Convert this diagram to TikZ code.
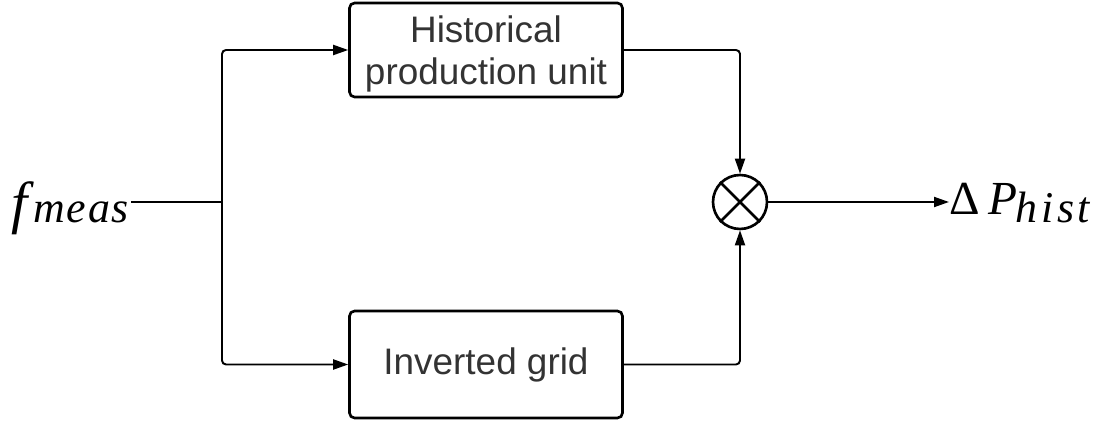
\documentclass[tikz,border=0pt]{standalone}
\usepackage{fontspec}
\setmainfont{Liberation Serif}
\newfontfamily\boxfont{Liberation Sans}
\usetikzlibrary{
    arrows.meta, % For arrow tips
    positioning  % For relative placement
}
\definecolor{boxtext}{RGB}{51,51,51}

\begin{document}
\begin{tikzpicture}[
    x=0.02cm, y=-0.02cm, % one unit is one pixel of the reference
    >={Triangle[length=0.3cm, width=0.2cm]},
    % Style for the two blocks
    block/.style={draw, line width=1.5pt, rounded corners=0.1cm,
        minimum width=5.46cm, inner sep=0pt, align=center,
        text=boxtext, font=\boxfont\fontsize{21}{24}\selectfont},
    % Style for the connecting lines
    wire/.style={line width=1.1pt, rounded corners=0.08cm},
    % Style for the multiplier
    mult/.style={draw, circle, line width=1.5pt, minimum size=1.08cm, inner sep=0pt}
]
    \useasboundingbox (0,0) rectangle (1097,421);

    % Blocks and multiplier
    \node[block, minimum height=1.88cm] (hist) at (486,50)
        {\rule{0pt}{19.5pt}Historical\\production unit};
    \node[block, minimum height=2.14cm] (grid) at (486,364.5) {Inverted grid};
    \node[mult] (mul) at (740,202) {};
    \draw[line width=1.5pt] (mul.north east) -- (mul.south west)
                            (mul.north west) -- (mul.south east);

    % Input and output labels
    \node[anchor=base east, inner sep=1pt] (fmeas) at (131,223)
        {{\fontsize{33}{36}\selectfont\itshape f}\hspace{3pt}%
         {\fontsize{25}{30}\selectfont\itshape m\kern1pt e\kern1pt a\kern1pt s}};
    \node[anchor=base west, inner sep=0pt] (dP) at (949,215)
        {{\fontsize{27}{32}\selectfont Δ\hspace{5pt}\textit{P}}\hspace{-1pt}%
         \raisebox{-0.16cm}{\fontsize{25}{30}\selectfont\itshape h\kern2pt i\kern2pt s\kern2pt t}};

    % Branch point
    \coordinate (split) at (222,202);

    % Connectors
    \draw[wire] (fmeas.east |- split) -- (split);
    \draw[wire, ->] (split) |- (hist.west);
    \draw[wire, ->] (split) |- (grid.west);
    \draw[wire, ->] (hist.east) -| (mul.north);
    \draw[wire, ->] (grid.east) -| (mul.south);
    \draw[wire, ->] (mul.east) -- (mul.east -| dP.west);

\end{tikzpicture}
\end{document}
